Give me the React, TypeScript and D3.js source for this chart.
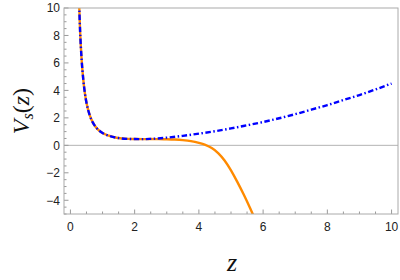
import React from "react";
import * as d3 from "d3";

const W = 400;
const H = 280;

const xTicks = [0, 2, 4, 6, 8, 10];
const yTicks = [-4, -2, 0, 2, 4, 6, 8, 10];

const zBlue = [0.27, 0.3, 0.35, 0.4, 0.45, 0.5, 0.6, 0.7, 0.8, 0.9, 1.0, 1.2, 1.4, 1.6, 1.8, 2.0, 2.25, 2.5, 3.0, 3.5, 4.0, 4.5, 5.0, 5.5, 6.0, 6.5, 7.0, 7.5, 8.0, 8.5, 9.0, 9.5, 10.0];
const vBlue = [10.4, 8.4, 6.2, 4.8, 3.8, 3.1, 2.2, 1.65, 1.3, 1.06, 0.9, 0.7, 0.57, 0.5, 0.47, 0.46, 0.45, 0.47, 0.56, 0.69, 0.85, 1.03, 1.23, 1.46, 1.7, 1.97, 2.27, 2.6, 2.93, 3.3, 3.66, 4.07, 4.5];

const zOrange = [0.27, 0.3, 0.35, 0.4, 0.45, 0.5, 0.6, 0.7, 0.8, 0.9, 1.0, 1.2, 1.4, 1.6, 1.8, 2.0, 2.25, 2.5, 2.75, 3.0, 3.25, 3.5, 3.75, 4.0, 4.2, 4.4, 4.6, 4.8, 5.0, 5.2, 5.4, 5.6, 5.75];
const vOrange = [10.4, 8.4, 6.2, 4.8, 3.8, 3.1, 2.2, 1.65, 1.3, 1.06, 0.9, 0.7, 0.57, 0.5, 0.47, 0.46, 0.45, 0.46, 0.45, 0.44, 0.42, 0.38, 0.31, 0.18, 0.03, -0.2, -0.56, -1.1, -1.82, -2.68, -3.6, -4.6, -5.4];

export default function App() {
  const left = 64, right = 398, top = 8, bottom = 214;
  const x = d3.scaleLinear().domain([-0.2, 10.2]).range([left, right]);
  const y = d3.scaleLinear().domain([-5, 10]).range([bottom, top]);

  const line = d3
    .line<[number, number]>()
    .x((d) => x(d[0]))
    .y((d) => y(d[1]))
    .curve(d3.curveMonotoneX);

  const blue = line(zBlue.map((z, i) => [z, vBlue[i]] as [number, number])) || "";
  const orange = line(zOrange.map((z, i) => [z, vOrange[i]] as [number, number])) || "";

  const xMinor = d3.range(0, 10.01, 0.5);
  const yMinor = d3.range(-5, 10.01, 0.5);
  const tickColor = "#999";

  return (
    <svg
      width={W}
      height={H}
      viewBox={`0 0 ${W} ${H}`}
      style={{ position: "absolute", left: 0, top: 0, background: "#fff" }}
    >
      <defs>
        <clipPath id="plot">
          <rect x={left} y={top} width={right - left} height={bottom - top} />
        </clipPath>
      </defs>
      {/* zero line */}
      <line x1={left} x2={right} y1={y(0)} y2={y(0)} stroke="#b4b4b4" strokeWidth={1} />
      {/* ticks */}
      {xMinor.map((t) => {
        const major = xTicks.includes(t);
        return (
          <line
            key={"xm" + t}
            x1={x(t)}
            x2={x(t)}
            y1={bottom}
            y2={bottom - (major ? 4.5 : 2.5)}
            stroke={tickColor}
            strokeWidth={1}
          />
        );
      })}
      {yMinor.map((t) => {
        const major = yTicks.includes(t);
        return (
          <line
            key={"ym" + t}
            x1={left}
            x2={left + (major ? 4.5 : 2.5)}
            y1={y(t)}
            y2={y(t)}
            stroke={tickColor}
            strokeWidth={1}
          />
        );
      })}
      {/* curves */}
      <g clipPath="url(#plot)">
        <path d={orange} fill="none" stroke="#ff8a00" strokeWidth={2.4} />
        <path
          d={blue}
          fill="none"
          stroke="#0000ff"
          strokeWidth={2.4}
          strokeDasharray="5.5 2.5 1.5 2.5"
        />
      </g>
      {/* frame */}
      <rect
        x={left}
        y={top}
        width={right - left}
        height={bottom - top}
        fill="none"
        stroke="#aaa"
        strokeWidth={1}
      />
      {/* tick labels */}
      {xTicks.map((t) => (
        <text
          key={"xl" + t}
          x={x(t)}
          y={bottom + 17}
          textAnchor="middle"
          fontFamily="Liberation Sans, Arial, sans-serif"
          fontSize={12}
          fill="#222"
        >
          {t}
        </text>
      ))}
      {yTicks.map((t) => (
        <text
          key={"yl" + t}
          x={left - 4}
          y={y(t) + 4.3}
          textAnchor="end"
          fontFamily="Liberation Sans, Arial, sans-serif"
          fontSize={12}
          fill="#222"
        >
          {t < 0 ? "\u2212" + Math.abs(t) : t}
        </text>
      ))}
      {/* axis titles */}
      <text
        x={(left + right) / 2 + 1}
        y={271}
        textAnchor="middle"
        fontFamily="Liberation Serif, Times New Roman, serif"
        fontStyle="italic"
        fontSize={26}
        fill="#111"
      >
        z
      </text>
      <text
        transform={`translate(29, ${(top + bottom) / 2}) rotate(-90)`}
        textAnchor="middle"
        fontFamily="Liberation Serif, Times New Roman, serif"
        fontSize={24}
        fill="#111"
      >
        <tspan fontStyle="italic">V</tspan>
        <tspan fontStyle="italic" fontSize={16} dy={4}>s</tspan>
        <tspan dy={-4}>(</tspan>
        <tspan fontStyle="italic">z</tspan>
        <tspan>)</tspan>
      </text>
    </svg>
  );
}
